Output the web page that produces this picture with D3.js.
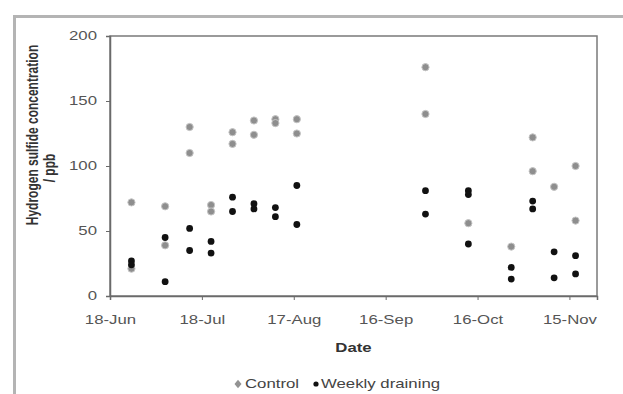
<!DOCTYPE html>
<html>
<head>
<meta charset="utf-8">
<script src="https://cdn.jsdelivr.net/npm/d3@7"></script>
<style>
  body { margin: 0; background: #fff; }
  svg { display: block; font-family: "Liberation Sans", Arial, sans-serif; }
</style>
</head>
<body>
<svg id="chart" width="623" height="394"></svg>
<script>
// sampling dates and H2S readings (ppb)
const controlDates = ["2007-06-25","2007-06-25","2007-07-06","2007-07-06","2007-07-14","2007-07-14",
  "2007-07-21","2007-07-21","2007-07-28","2007-07-28","2007-08-04","2007-08-04","2007-08-11","2007-08-11",
  "2007-08-18","2007-08-18","2007-09-29","2007-09-29","2007-10-13","2007-10-27",
  "2007-11-03","2007-11-03","2007-11-10","2007-11-17","2007-11-17"];
const controlPpb = [72, 21, 69, 39, 130, 110, 70, 65, 126, 117, 135, 124, 136, 133,
  136, 125, 176, 140, 56, 38, 122, 96, 84, 100, 58];

const weeklyDates = ["2007-06-25","2007-06-25","2007-07-06","2007-07-06","2007-07-14","2007-07-14",
  "2007-07-21","2007-07-21","2007-07-28","2007-07-28","2007-08-04","2007-08-04","2007-08-11","2007-08-11",
  "2007-08-18","2007-08-18","2007-09-29","2007-09-29","2007-10-13","2007-10-13","2007-10-13",
  "2007-10-27","2007-10-27","2007-11-03","2007-11-03","2007-11-10","2007-11-10","2007-11-17","2007-11-17"];
const weeklyPpb = [27, 24, 45, 11, 52, 35, 42, 33, 76, 65, 71, 67, 68, 61,
  85, 55, 81, 63, 81, 78, 40, 22, 13, 73, 67, 34, 14, 31, 17];

const xTickDates = ["2007-06-18","2007-07-18","2007-08-17","2007-09-16","2007-10-16","2007-11-15"];
const yTicks = [0, 50, 100, 150, 200];

const parse = d3.timeParse("%Y-%m-%d");
const fmt = d3.timeFormat("%-d-%b");

const svg = d3.select("#chart");
const margin = { top: 36, left: 110, right: 26, bottom: 98 };
const width = 623, height = 394;
const stretch = 1.4; // the source figure is widened, text included

// outer chart frame
svg.append("rect")
  .attr("x", 14.5).attr("y", 16.5)
  .attr("width", 640).attr("height", 400)
  .attr("fill", "none")
  .attr("stroke", "#b4b4b4")
  .attr("stroke-width", 3);

const xScale = d3.scaleTime()
  .domain([parse("2007-06-18"), parse("2007-11-24")])
  .range([margin.left, width - margin.right]);
const yScale = d3.scaleLinear()
  .domain([0, 200])
  .range([height - margin.bottom, margin.top]);

// plot area border
svg.append("rect")
  .attr("x", margin.left).attr("y", margin.top)
  .attr("width", xScale.range()[1] - margin.left)
  .attr("height", yScale(0) - margin.top)
  .attr("fill", "none")
  .attr("stroke", "#7a7a7a")
  .attr("stroke-width", 1.5);

// Y-axis
const yAxis = svg.append("g")
  .attr("transform", `translate(${margin.left},0)`)
  .call(d3.axisLeft(yScale).tickValues(yTicks).tickSize(4));
yAxis.select(".domain").attr("stroke", "#6a6a6a").attr("stroke-width", 1.5);
yAxis.selectAll(".tick line").attr("stroke", "#6a6a6a");
yAxis.selectAll("text")
  .attr("x", -13 / stretch)
  .attr("transform", `scale(${stretch},1)`)
  .attr("font-size", 12).attr("fill", "#555");

// X-axis
const xAxis = svg.append("g")
  .attr("transform", `translate(0,${yScale(0)})`)
  .call(d3.axisBottom(xScale).tickValues(xTickDates.map(parse)).tickFormat(fmt).tickSize(4).tickPadding(15));
xAxis.select(".domain").attr("stroke", "#6a6a6a").attr("stroke-width", 1.5);
xAxis.selectAll(".tick line").attr("stroke", "#6a6a6a");
xAxis.selectAll("text")
  .attr("transform", `scale(${stretch},1)`)
  .attr("font-size", 12).attr("fill", "#555");

// points
svg.append("g").selectAll("circle")
  .data(d3.zip(controlDates, controlPpb))
  .enter()
  .append("circle")
  .attr("cx", d => xScale(parse(d[0])))
  .attr("cy", d => yScale(d[1]))
  .attr("r", 3.6)
  .attr("fill", "#8e8e8e")
  .attr("stroke", "#c4c4c4")
  .attr("stroke-width", 1);

svg.append("g").selectAll("circle")
  .data(d3.zip(weeklyDates, weeklyPpb))
  .enter()
  .append("circle")
  .attr("cx", d => xScale(parse(d[0])))
  .attr("cy", d => yScale(d[1]))
  .attr("r", 3.4)
  .attr("fill", "#111");

//Axis-labels
svg.append("text")
  .attr("transform", `translate(${(margin.left + xScale.range()[1]) / 2},352) scale(${stretch},1)`)
  .attr("text-anchor", "middle")
  .attr("font-size", 12)
  .attr("font-weight", "bold")
  .attr("fill", "#333")
  .text("Date");

svg.append("text")
  .attr("transform", `translate(38,135) scale(${stretch},1) rotate(-90)`)
  .attr("text-anchor", "middle")
  .attr("font-size", 12)
  .attr("font-weight", "bold")
  .attr("fill", "#333")
  .text("Hydrogen sulfide concentration");

svg.append("text")
  .attr("transform", `translate(55,168) scale(${stretch},1) rotate(-90)`)
  .attr("text-anchor", "middle")
  .attr("font-size", 12)
  .attr("font-weight", "bold")
  .attr("fill", "#333")
  .text("/ ppb");

// legend
const legend = svg.append("g").attr("transform", "translate(0,388)");
legend.append("path")
  .attr("d", d3.symbol().type(d3.symbolDiamond).size(22))
  .attr("transform", `translate(238,-4) scale(${stretch},1)`)
  .attr("fill", "#939393");
legend.append("text")
  .attr("transform", `translate(245,0) scale(${stretch},1)`)
  .attr("font-size", 12).attr("fill", "#444")
  .text("Control");
legend.append("circle")
  .attr("cx", 316).attr("cy", -4).attr("r", 2.6)
  .attr("fill", "#111");
legend.append("text")
  .attr("transform", `translate(321,0) scale(${stretch},1)`)
  .attr("font-size", 12).attr("fill", "#444")
  .text("Weekly draining");
</script>
</body>
</html>
